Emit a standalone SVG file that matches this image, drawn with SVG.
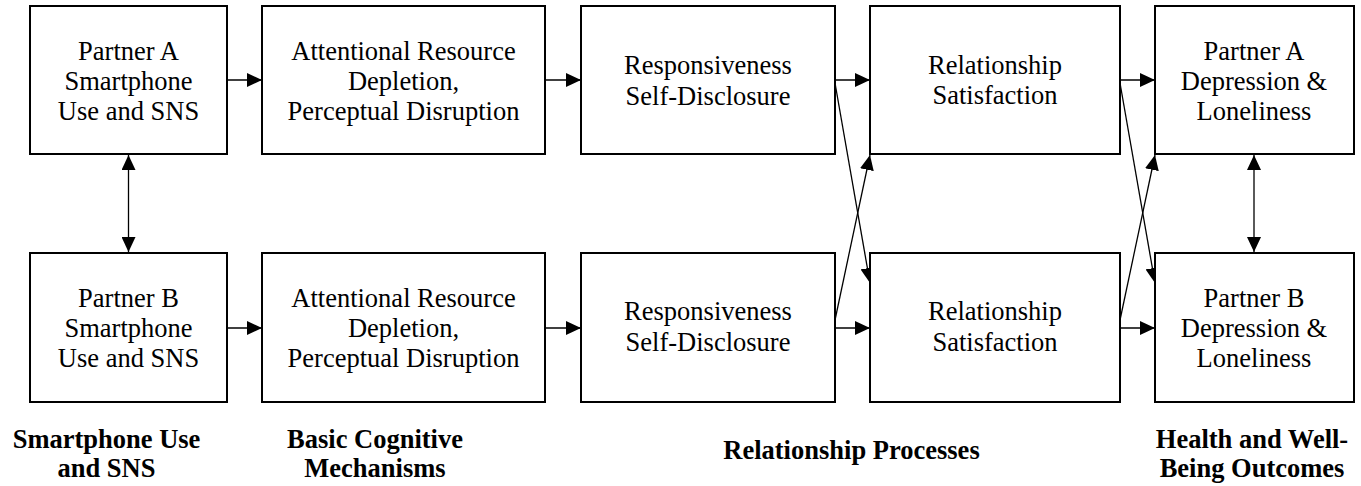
<svg xmlns="http://www.w3.org/2000/svg" width="1361" height="486" viewBox="0 0 1361 486">
<style>
.box{fill:#fff;stroke:#000;stroke-width:2}
.t{font-family:"Liberation Serif","Times New Roman",serif;font-size:26.5px;text-anchor:middle;fill:#000}
.b{font-weight:bold}
.c{stroke:#000;stroke-width:1.3;fill:none}
</style>
<defs>
<marker id="ah" markerUnits="userSpaceOnUse" markerWidth="15" markerHeight="14" refX="15" refY="7" orient="auto-start-reverse" viewBox="0 0 15 14">
<path d="M0,0 L15,7 L0,14 z" fill="#000"/>
</marker>
</defs>
<rect width="1361" height="486" fill="#fff"/>
<g id="connectors">
<line class="c" x1="227" y1="80" x2="262" y2="80" marker-end="url(#ah)"/>
<line class="c" x1="545" y1="80" x2="581" y2="80" marker-end="url(#ah)"/>
<line class="c" x1="835" y1="80" x2="870" y2="80" marker-end="url(#ah)"/>
<line class="c" x1="1120" y1="80" x2="1155" y2="80" marker-end="url(#ah)"/>
<line class="c" x1="227" y1="328" x2="262" y2="328" marker-end="url(#ah)"/>
<line class="c" x1="545" y1="328" x2="581" y2="328" marker-end="url(#ah)"/>
<line class="c" x1="835" y1="328" x2="870" y2="328" marker-end="url(#ah)"/>
<line class="c" x1="1120" y1="328" x2="1155" y2="328" marker-end="url(#ah)"/>
<line class="c" x1="128.5" y1="155" x2="128.5" y2="252" marker-start="url(#ah)" marker-end="url(#ah)"/>
<line class="c" x1="1254" y1="155" x2="1254" y2="252" marker-start="url(#ah)" marker-end="url(#ah)"/>
<line class="c" x1="835" y1="83" x2="870" y2="283" marker-end="url(#ah)"/>
<line class="c" x1="835" y1="320" x2="870" y2="155" marker-end="url(#ah)"/>
<line class="c" x1="1120" y1="83" x2="1155" y2="283" marker-end="url(#ah)"/>
<line class="c" x1="1120" y1="320" x2="1155" y2="155" marker-end="url(#ah)"/>
</g>
<g id="a-use">
<rect class="box" x="30" y="6" width="197" height="148"/>
<text class="t" x="128.5" y="60">Partner A</text>
<text class="t" x="128.5" y="90">Smartphone</text>
<text class="t" x="128.5" y="120">Use and SNS</text>
</g>
<g id="a-att">
<rect class="box" x="262" y="6" width="283" height="148"/>
<text class="t" x="403.5" y="60">Attentional Resource</text>
<text class="t" x="403.5" y="90">Depletion,</text>
<text class="t" x="403.5" y="120">Perceptual Disruption</text>
</g>
<g id="a-resp">
<rect class="box" x="581" y="6" width="254" height="148"/>
<text class="t" x="708" y="74">Responsiveness</text>
<text class="t" x="708" y="105">Self-Disclosure</text>
</g>
<g id="a-sat">
<rect class="box" x="870" y="6" width="250" height="148"/>
<text class="t" x="995" y="74">Relationship</text>
<text class="t" x="995" y="104">Satisfaction</text>
</g>
<g id="a-dep">
<rect class="box" x="1155" y="6" width="199" height="148"/>
<text class="t" x="1254" y="60">Partner A</text>
<text class="t" x="1254" y="90">Depression &amp;</text>
<text class="t" x="1254" y="120">Loneliness</text>
</g>
<g id="b-use">
<rect class="box" x="30" y="253" width="197" height="149"/>
<text class="t" x="128.5" y="307">Partner B</text>
<text class="t" x="128.5" y="337">Smartphone</text>
<text class="t" x="128.5" y="367">Use and SNS</text>
</g>
<g id="b-att">
<rect class="box" x="262" y="253" width="283" height="149"/>
<text class="t" x="403.5" y="307">Attentional Resource</text>
<text class="t" x="403.5" y="337">Depletion,</text>
<text class="t" x="403.5" y="367">Perceptual Disruption</text>
</g>
<g id="b-resp">
<rect class="box" x="581" y="253" width="254" height="149"/>
<text class="t" x="708" y="320">Responsiveness</text>
<text class="t" x="708" y="351">Self-Disclosure</text>
</g>
<g id="b-sat">
<rect class="box" x="870" y="253" width="250" height="149"/>
<text class="t" x="995" y="320">Relationship</text>
<text class="t" x="995" y="351">Satisfaction</text>
</g>
<g id="b-dep">
<rect class="box" x="1155" y="253" width="199" height="149"/>
<text class="t" x="1254" y="307">Partner B</text>
<text class="t" x="1254" y="337">Depression &amp;</text>
<text class="t" x="1254" y="367">Loneliness</text>
</g>
<g id="labels">
<text class="t b" x="106.5" y="448">Smartphone Use</text>
<text class="t b" x="106.5" y="477">and SNS</text>
<text class="t b" x="375" y="448">Basic Cognitive</text>
<text class="t b" x="375" y="477">Mechanisms</text>
<text class="t b" x="851.5" y="459">Relationship Processes</text>
<text class="t b" x="1252" y="448">Health and Well-</text>
<text class="t b" x="1252" y="477">Being Outcomes</text>
</g>
</svg>
